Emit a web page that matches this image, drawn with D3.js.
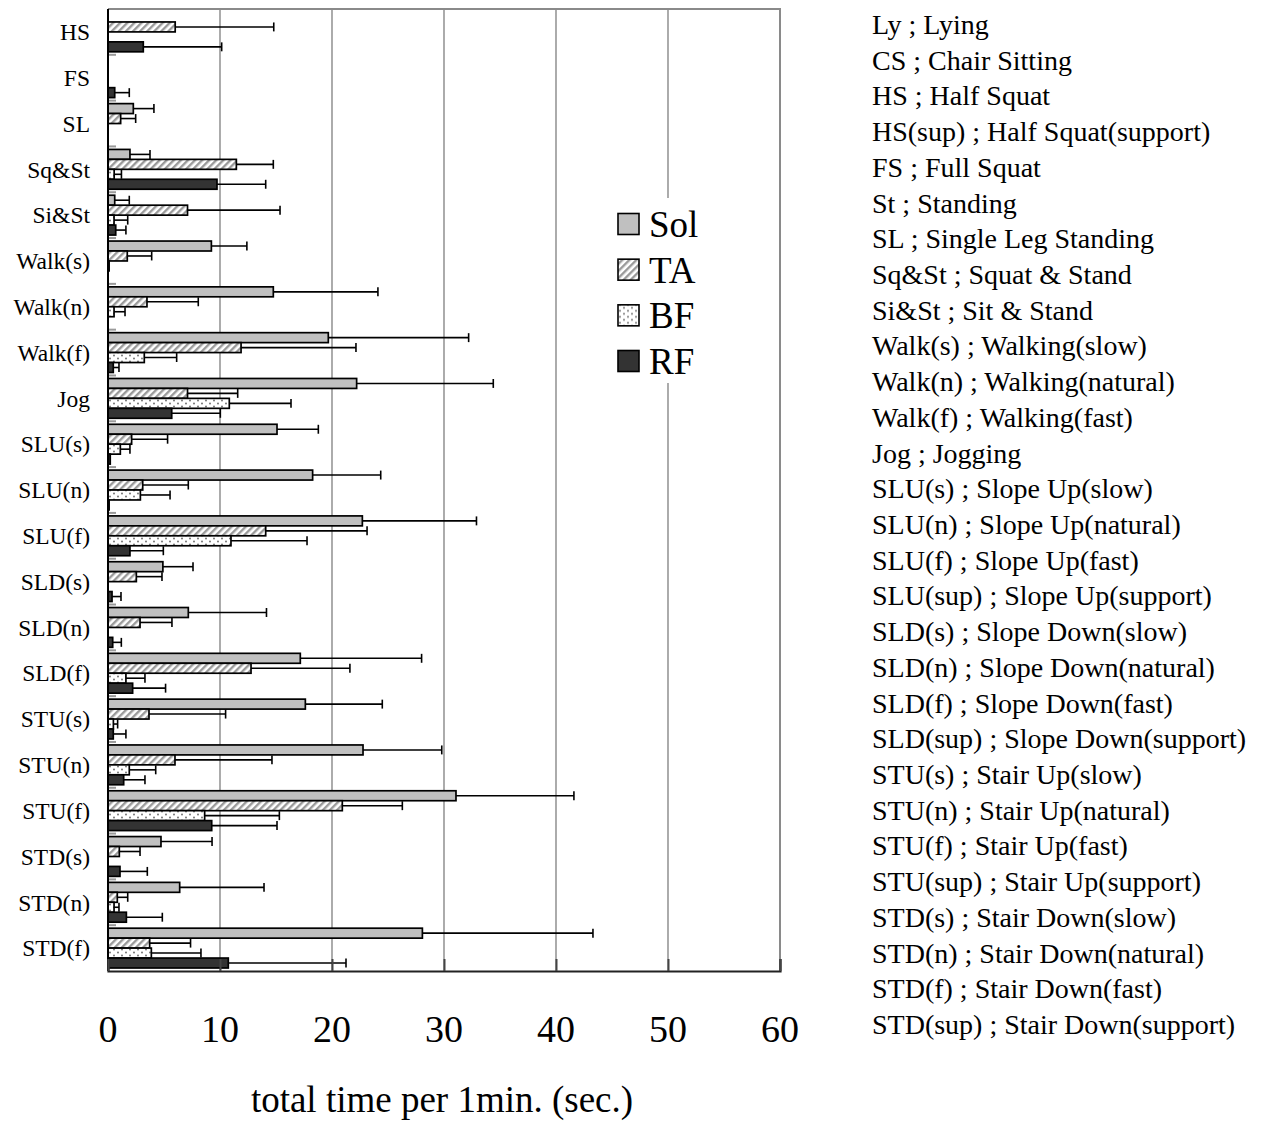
<!DOCTYPE html>
<html>
<head>
<meta charset="utf-8">
<script src="https://cdn.jsdelivr.net/npm/d3@7"></script>
<style>
  html, body { margin: 0; padding: 0; background: #fff; }
  svg { display: block; font-family: "Liberation Serif", "Times New Roman", serif; }
</style>
</head>
<body>
<svg id="chart" width="1261" height="1122"></svg>
<script>
// Movement tasks (top to bottom)
const categories = ["HS", "FS", "SL", "Sq&St", "Si&St", "Walk(s)", "Walk(n)", "Walk(f)", "Jog",
  "SLU(s)", "SLU(n)", "SLU(f)", "SLD(s)", "SLD(n)", "SLD(f)", "STU(s)", "STU(n)", "STU(f)",
  "STD(s)", "STD(n)", "STD(f)"];

// Muscles
const series = ["Sol", "TA", "BF", "RF"];

// Mean total time per 1 min (sec.)
const solMean = [0, 0, 2.26, 1.96, 0.6, 9.23, 14.76, 19.67, 22.2, 15.09, 18.27, 22.71, 4.9, 7.17, 17.17, 17.62, 22.77, 31.07, 4.73, 6.4, 28.07];
const taMean  = [6.0, 0, 1.13, 11.46, 7.1, 1.72, 3.48, 11.88, 7.1, 2.11, 3.1, 14.08, 2.53, 2.86, 12.77, 3.66, 5.98, 20.92, 1.01, 0.83, 3.72];
const bfMean  = [0, 0, 0, 0.55, 0.54, 0.1, 0.54, 3.24, 10.83, 1.1, 2.89, 10.98, 0, 0, 1.6, 0.48, 1.9, 8.63, 0, 0.54, 3.87];
const rfMean  = [3.15, 0.6, 0, 9.73, 0.69, 0, 0, 0.47, 5.69, 0.2, 0.1, 1.96, 0.36, 0.42, 2.2, 0.47, 1.4, 9.26, 1.07, 1.64, 10.74];

// Standard deviations
const solSd = [0, 0, 1.84, 1.79, 1.3, 3.17, 9.34, 12.53, 12.2, 3.69, 6.08, 10.19, 2.69, 6.98, 10.83, 6.87, 7.03, 10.53, 4.56, 7.53, 15.23];
const taSd  = [8.8, 0, 1.34, 3.3, 8.26, 2.18, 4.58, 10.26, 4.48, 3.21, 4.07, 9.05, 2.29, 2.85, 8.83, 6.84, 8.66, 5.36, 1.85, 0.93, 3.65];
const bfSd  = [0, 0, 0, 0.65, 1.22, 0, 0.98, 2.89, 5.51, 0.86, 2.65, 6.79, 0, 0, 1.7, 0.38, 2.36, 6.67, 0, 0.44, 4.43];
const rfSd  = [7.0, 1.3, 0, 4.35, 0.91, 0, 0, 0.51, 4.34, 0, 0, 2.98, 0.8, 0.77, 2.94, 1.13, 1.9, 5.83, 2.44, 3.21, 10.51];

const xTicks = [0, 10, 20, 30, 40, 50, 60];
const xTitle = "total time per 1min. (sec.)";

const abbreviations = [
  "Ly ; Lying", "CS ; Chair Sitting", "HS ; Half Squat", "HS(sup) ; Half Squat(support)",
  "FS ; Full Squat", "St ; Standing", "SL ; Single Leg Standing", "Sq&St ; Squat & Stand",
  "Si&St ; Sit & Stand", "Walk(s) ; Walking(slow)", "Walk(n) ; Walking(natural)",
  "Walk(f) ; Walking(fast)", "Jog ; Jogging", "SLU(s) ; Slope Up(slow)",
  "SLU(n) ; Slope Up(natural)", "SLU(f) ; Slope Up(fast)", "SLU(sup) ; Slope Up(support)",
  "SLD(s) ; Slope Down(slow)", "SLD(n) ; Slope Down(natural)", "SLD(f) ; Slope Down(fast)",
  "SLD(sup) ; Slope Down(support)", "STU(s) ; Stair Up(slow)", "STU(n) ; Stair Up(natural)",
  "STU(f) ; Stair Up(fast)", "STU(sup) ; Stair Up(support)", "STD(s) ; Stair Down(slow)",
  "STD(n) ; Stair Down(natural)", "STD(f) ; Stair Down(fast)", "STD(sup) ; Stair Down(support)"
];

const means = { Sol: solMean, TA: taMean, BF: bfMean, RF: rfMean };
const sds = { Sol: solSd, TA: taSd, BF: bfSd, RF: rfSd };

const rows = [];
categories.forEach((c, i) => {
  series.forEach(s => rows.push({ cat: c, key: s, mean: means[s][i], sd: sds[s][i] }));
});

const svg = d3.select("#chart");
const plot = { left: 108, right: 780, top: 9, bottom: 971 };

const x = d3.scaleLinear().domain([0, 60]).range([plot.left, plot.right]);
const y = d3.scaleBand().domain(categories).range([plot.top, plot.bottom]);
const yInner = d3.scaleBand().domain(series).range([3, y.bandwidth() - 3]);

// Fill patterns
const defs = svg.append("defs");
const hatch = defs.append("pattern").attr("id", "hatchTA")
  .attr("patternUnits", "userSpaceOnUse").attr("width", 5).attr("height", 5)
  .attr("patternTransform", "rotate(45)");
hatch.append("rect").attr("width", 5).attr("height", 5).attr("fill", "#ffffff");
hatch.append("rect").attr("x", 0).attr("y", 0).attr("width", 2.4).attr("height", 5).attr("fill", "#9a9a9a");

const dots = defs.append("pattern").attr("id", "dotsBF")
  .attr("patternUnits", "userSpaceOnUse").attr("width", 8).attr("height", 6);
dots.append("rect").attr("width", 8).attr("height", 6).attr("fill", "#ffffff");
dots.append("circle").attr("cx", 2).attr("cy", 1.5).attr("r", 0.9).attr("fill", "#666");
dots.append("circle").attr("cx", 6).attr("cy", 4.5).attr("r", 0.9).attr("fill", "#666");

const fills = { Sol: "#c0c0c0", TA: "url(#hatchTA)", BF: "url(#dotsBF)", RF: "#333333" };

// Gridlines
svg.append("g").selectAll("line").data(xTicks.filter(t => t > 0 && t < 60)).join("line")
  .attr("x1", d => x(d)).attr("x2", d => x(d))
  .attr("y1", plot.top).attr("y2", plot.bottom)
  .attr("stroke", "#7f7f7f").attr("stroke-width", 1.3);

// Frame (top and right)
svg.append("path")
  .attr("d", `M${plot.left},${plot.top}H${plot.right}V${plot.bottom}`)
  .attr("fill", "none").attr("stroke", "#8a8a8a").attr("stroke-width", 2);

// Bars
const barG = svg.append("g");
barG.selectAll("rect").data(rows.filter(d => d.mean > 0)).join("rect")
  .attr("x", x(0))
  .attr("y", d => y(d.cat) + yInner(d.key))
  .attr("width", d => x(d.mean) - x(0))
  .attr("height", yInner.bandwidth())
  .attr("fill", d => fills[d.key])
  .attr("stroke", "#000").attr("stroke-width", 1.7);

// Error bars
const errG = svg.append("g").attr("stroke", "#000").attr("stroke-width", 1.6);
const errRows = rows.filter(d => d.sd > 0);
errG.selectAll("line.whisker").data(errRows).join("line").attr("class", "whisker")
  .attr("x1", d => x(d.mean)).attr("x2", d => x(d.mean + d.sd))
  .attr("y1", d => y(d.cat) + yInner(d.key) + yInner.bandwidth() / 2)
  .attr("y2", d => y(d.cat) + yInner(d.key) + yInner.bandwidth() / 2);
errG.selectAll("line.cap").data(errRows).join("line").attr("class", "cap")
  .attr("x1", d => x(d.mean + d.sd)).attr("x2", d => x(d.mean + d.sd))
  .attr("y1", d => y(d.cat) + yInner(d.key) + 0.5)
  .attr("y2", d => y(d.cat) + yInner(d.key) + yInner.bandwidth() - 0.5);

// Left axis: line, inward minor ticks at category boundaries, labels
svg.append("g").selectAll("line").data(categories.slice(1)).join("line")
  .attr("x1", plot.left).attr("x2", plot.left + 8)
  .attr("y1", d => y(d)).attr("y2", d => y(d))
  .attr("stroke", "#9a9a9a").attr("stroke-width", 2);
svg.append("line")
  .attr("x1", plot.left).attr("x2", plot.left)
  .attr("y1", plot.top).attr("y2", plot.bottom)
  .attr("stroke", "#000").attr("stroke-width", 2);
svg.append("g").selectAll("text").data(categories).join("text")
  .attr("x", 90).attr("y", d => y(d) + y.bandwidth() / 2)
  .attr("dy", "0.35em").attr("text-anchor", "end")
  .attr("font-size", 23.5).attr("fill", "#000").text(d => d);

// Bottom axis with inward ticks
const xAxis = svg.append("g").attr("transform", `translate(0,${plot.bottom})`)
  .call(d3.axisBottom(x).tickValues(xTicks).tickSize(-12).tickFormat(""));
xAxis.select(".domain").attr("stroke", "#222").attr("stroke-width", 2.2);
xAxis.selectAll(".tick line").attr("stroke", "#444").attr("stroke-width", 2);

svg.append("g").selectAll("text").data(xTicks).join("text")
  .attr("x", d => x(d)).attr("y", 1042)
  .attr("text-anchor", "middle").attr("font-size", 38).attr("fill", "#000")
  .text(d => d);

svg.append("text")
  .attr("x", (plot.left + plot.right) / 2 - 2).attr("y", 1112)
  .attr("text-anchor", "middle").attr("font-size", 37).attr("fill", "#000")
  .text(xTitle);

// Legend
const legend = svg.append("g");
legend.append("rect").attr("x", 606).attr("y", 198).attr("width", 100).attr("height", 185)
  .attr("fill", "#fff");
const legendY = d3.scalePoint().domain(series).range([224, 361]);
const li = legend.selectAll("g.item").data(series).join("g").attr("class", "item")
  .attr("transform", d => `translate(618,${legendY(d)})`);
li.append("rect").attr("x", 0).attr("y", -10.5).attr("width", 21).attr("height", 21)
  .attr("fill", d => fills[d]).attr("stroke", "#000").attr("stroke-width", 1.6);
li.append("text").attr("x", 31).attr("y", 0).attr("dy", "0.35em")
  .attr("font-size", 37).attr("fill", "#000").text(d => d);

// Abbreviation list
const abbrY = d3.scalePoint().domain(d3.range(abbreviations.length)).range([34, 1034]);
svg.append("g").selectAll("text").data(abbreviations).join("text")
  .attr("x", 872).attr("y", (d, i) => abbrY(i))
  .attr("font-size", 28).attr("fill", "#000").text(d => d);
</script>
</body>
</html>
